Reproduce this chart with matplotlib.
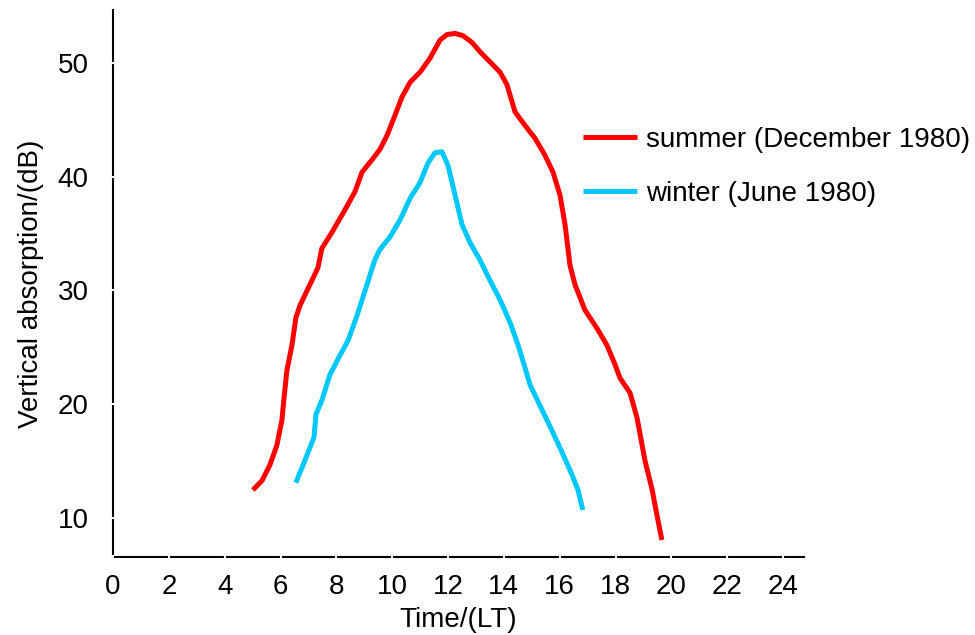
import numpy as np
import matplotlib.pyplot as plt

plt.rcParams['font.family'] = ['Liberation Sans', 'DejaVu Sans']

# summer (December 1980) curve
summer_t = [5.01, 5.34, 5.62, 5.87, 6.05, 6.12, 6.23, 6.41, 6.55, 6.70, 7.05, 7.34, 7.48,
            7.84, 8.31, 8.67, 8.92, 9.28, 9.56, 9.81, 10.1, 10.35, 10.64, 11.0, 11.35,
            11.71, 11.96, 12.25, 12.54, 12.86, 13.14, 13.5, 13.86, 14.11, 14.40, 14.76,
            15.11, 15.47, 15.76, 16.01, 16.19, 16.37, 16.55, 16.9, 17.33, 17.69, 17.98,
            18.16, 18.52, 18.77, 19.05, 19.31, 19.48, 19.66]
summer_db = [12.46, 13.3, 14.66, 16.4, 18.6, 20.4, 23.0, 25.2, 27.6, 28.7, 30.5, 32.0, 33.7,
             35.1, 37.1, 38.7, 40.4, 41.5, 42.4, 43.6, 45.4, 47.0, 48.3, 49.2, 50.4,
             52.0, 52.5, 52.6, 52.4, 51.8, 51.0, 50.1, 49.2, 48.1, 45.7, 44.5,
             43.4, 41.9, 40.4, 38.4, 35.8, 32.2, 30.5, 28.3, 26.7, 25.2, 23.5,
             22.3, 21.0, 18.8, 15.1, 12.5, 10.3, 8.07]

# winter (June 1980) curve
winter_t = [6.55, 6.88, 7.2, 7.27, 7.49, 7.77, 8.13, 8.42, 8.74, 9.03, 9.38, 9.56, 9.92,
            10.28, 10.64, 11.0, 11.28, 11.53, 11.78, 12.0, 12.25, 12.5, 12.79, 13.14,
            13.5, 13.86, 14.22, 14.51, 14.72, 14.94, 15.29, 15.72, 16.08, 16.44, 16.65, 16.83]
winter_db = [13.1, 15.1, 17.1, 19.1, 20.4, 22.6, 24.3, 25.6, 27.8, 30.0, 32.7, 33.6, 34.7,
             36.2, 38.1, 39.5, 41.2, 42.1, 42.2, 41.0, 38.4, 35.8, 34.2, 32.7,
             30.9, 29.2, 27.2, 25.2, 23.5, 21.7, 19.9, 17.7, 15.8, 13.8, 12.5, 10.7]

x_ticks = np.arange(0, 25, 2)
y_ticks = [10, 20, 30, 40, 50]

fig = plt.figure(figsize=(9.75, 6.35), dpi=100)
ax = fig.add_axes([0.1159, 0.1228, 0.7087, 0.8615])

ax.plot(summer_t, summer_db, color='#ff0000', lw=3.6, label='summer (December 1980)',
        solid_capstyle='butt', solid_joinstyle='round')
ax.plot(winter_t, winter_db, color='#00c8ff', lw=3.6, label='winter (June 1980)',
        solid_capstyle='butt', solid_joinstyle='round')

ax.set_xlim(0, 24.75)
ax.set_ylim(6.57, 54.66)
ax.set_xticks(x_ticks)
ax.set_yticks(y_ticks)
ax.tick_params(labelsize=20, length=3, width=1.5, color='white', direction='inout')
ax.tick_params(axis='x', pad=11)
ax.tick_params(axis='y', pad=16)

for s in ['top', 'right']:
    ax.spines[s].set_visible(False)
for s in ['left', 'bottom']:
    ax.spines[s].set_linewidth(1.5)
    ax.spines[s].set_zorder(0.5)

ax.set_xlabel('Time/(LT)', fontsize=20, labelpad=5)
ax.set_ylabel('Vertical absorption/(dB)', fontsize=20, labelpad=10)

ax.legend(loc='upper left', bbox_to_anchor=(0.598, 0.800), bbox_transform=fig.transFigure,
          frameon=False, fontsize=20, handlelength=1.95, handletextpad=0.3,
          labelspacing=1.0, borderaxespad=0, borderpad=0)

plt.savefig('out.png', dpi=100)
